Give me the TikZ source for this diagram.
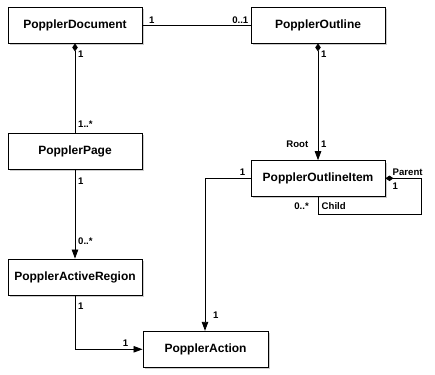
\documentclass[tikz,border=0pt]{standalone}
\usepackage{fontspec}
\setmainfont{Liberation Sans}
\usetikzlibrary{arrows.meta,shadows}
\begin{document}
\begin{tikzpicture}[x=1pt,y=-1pt,
  cls/.style={draw=black,line width=0.9pt,fill=white,minimum height=36pt,inner sep=0pt,
    font=\fontsize{12}{14}\selectfont\bfseries,
    drop shadow={shadow xshift=2pt,shadow yshift=-2pt,fill=black!40,opacity=0.5}},
  lab/.style={font=\fontsize{9.6}{11}\selectfont\bfseries,inner sep=0pt},
  conn/.style={line width=0.8pt},
  comp/.style={conn,{Diamond[length=8pt,width=5.5pt]}-},
  nav/.style={conn,-{Triangle[length=9pt,width=6.5pt]}},
  compnav/.style={conn,{Diamond[length=8pt,width=5.5pt]}-{Triangle[length=9pt,width=6.5pt]}}
]
\useasboundingbox (0,0) rectangle (435,374);
\node[cls,minimum width=134pt] (doc) at (75,25) {PopplerDocument};
\node[cls,minimum width=134pt] (outl) at (318,25) {PopplerOutline};
\node[cls,minimum width=134pt] (page) at (75,151) {PopplerPage};
\node[cls,minimum width=134pt,minimum height=35.5pt] (item) at (318,178.4) {PopplerOutlineItem};
\node[cls,minimum width=134pt] (areg) at (75,277) {PopplerActiveRegion};
\node[cls,minimum width=125pt] (act) at (205.5,349.3) {PopplerAction};

\coordinate (c1) at (75,349.3);
\coordinate (c2) at (205,178.3);
\coordinate (c3) at (421,178.3);
\coordinate (c4) at (421,214);
\coordinate (c5) at (318,214);

% Document -- Outline
\draw[conn] (doc.east) -- (outl.west);
\node[lab,anchor=south west] (l1) at (149,23.5) {1};
\node[lab,anchor=south east] (l2) at (248.5,23.5) {0..1};
% Document -> Page
\draw[comp] (doc.south) -- (page.north);
\node[lab,anchor=west] (l3) at (78,54) {1};
\node[lab,anchor=west] (l4) at (78,124) {1..*};
% Outline -> Item
\draw[compnav] (outl.south) -- (item.north);
\node[lab,anchor=west] (l5) at (321,54) {1};
\node[lab,anchor=west] (l6) at (321,144.5) {1};
\node[lab,anchor=east] (l7) at (308.5,144.5) {Root};
% Page -> ActiveRegion
\draw[nav] (page.south) -- (areg.north);
\node[lab,anchor=west] (l8) at (78,181) {1};
\node[lab,anchor=west] (l9) at (78,241) {0..*};
% ActiveRegion -> Action
\draw[nav] (areg.south) -- (c1) -- (act.west);
\node[lab,anchor=west] (l10) at (78,306.5) {1};
\node[lab,anchor=south] (l11) at (125.5,346.5) {1};
% Item -> Action
\draw[nav] (item.west |- c2) -- (c2) -- (act.north -| c2);
\node[lab,anchor=south] (l12) at (242.5,176) {1};
\node[lab,anchor=west] (l13) at (213,315.5) {1};
% self loop
\draw[comp] (item.east |- c3) -- (c3) -- (c4) -- (c5) -- (item.south -| c5);
\node[lab,anchor=south west] (l14) at (392.5,176) {Parent};
\node[lab,anchor=west] (l15) at (392.5,186) {1};
\node[lab,anchor=east] (l16) at (309,206.5) {0..*};
\node[lab,anchor=west] (l17) at (321.5,206.5) {Child};
\end{tikzpicture}
\end{document}
